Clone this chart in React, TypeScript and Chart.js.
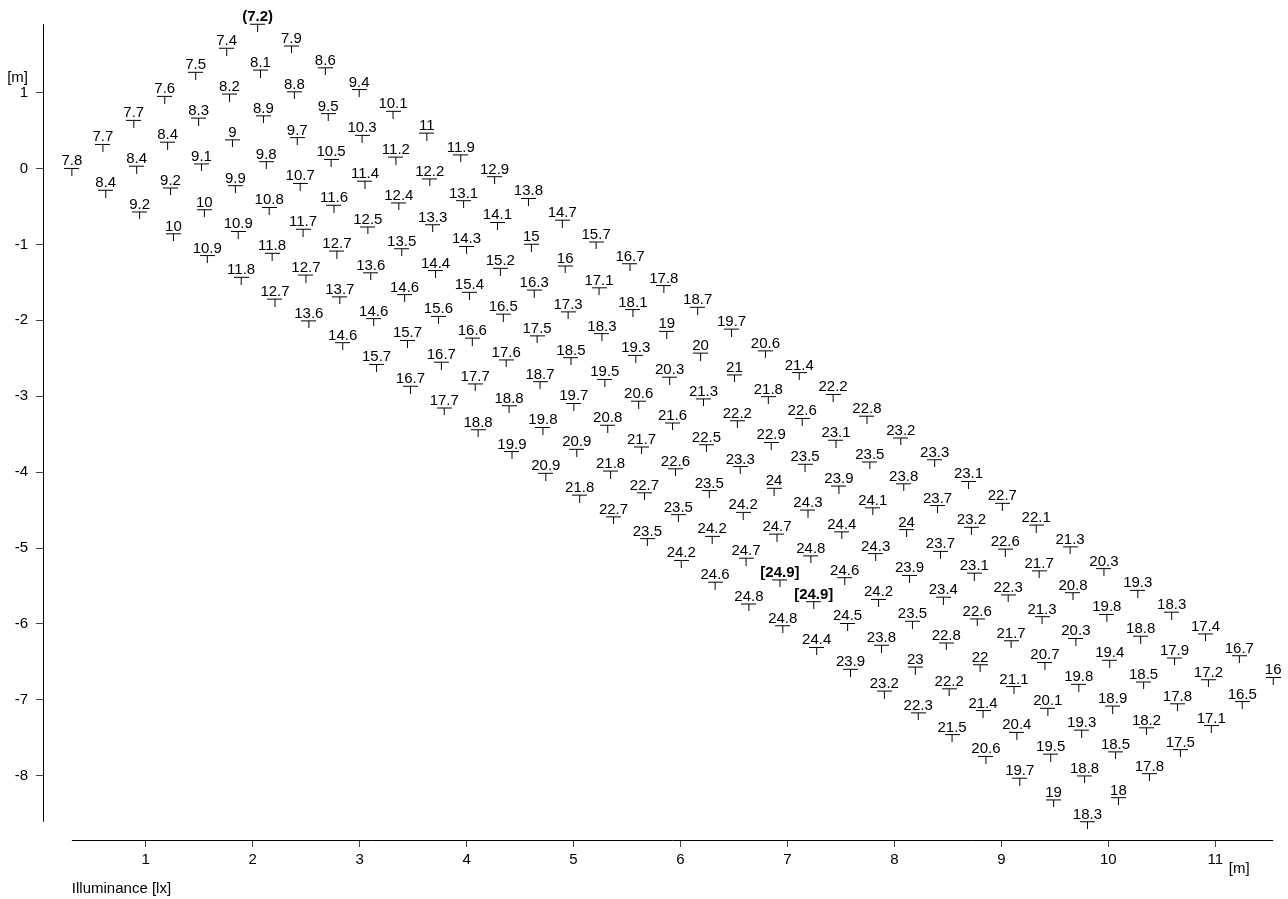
import React, { useEffect, useRef } from 'react';
import { Chart, registerables } from 'chart.js';

Chart.register(...registerables);

// Illuminance values [lx] on the calculation grid.
// ROW_k runs along the grid's "v" direction (down-right), k is the "u" index (up-right).
const ROW_0 = [7.8, 8.4, 9.2, 10, 10.9, 11.8, 12.7, 13.6, 14.6, 15.7, 16.7, 17.7, 18.8, 19.9, 20.9, 21.8, 22.7, 23.5, 24.2, 24.6, 24.8, 24.8, 24.4, 23.9, 23.2, 22.3, 21.5, 20.6, 19.7, 19, 18.3];
const ROW_1 = [7.7, 8.4, 9.2, 10, 10.9, 11.8, 12.7, 13.7, 14.6, 15.7, 16.7, 17.7, 18.8, 19.8, 20.9, 21.8, 22.7, 23.5, 24.2, 24.7, 24.9, 24.9, 24.5, 23.8, 23, 22.2, 21.4, 20.4, 19.5, 18.8, 18];
const ROW_2 = [7.7, 8.4, 9.1, 9.9, 10.8, 11.7, 12.7, 13.6, 14.6, 15.6, 16.6, 17.6, 18.7, 19.7, 20.8, 21.7, 22.6, 23.5, 24.2, 24.7, 24.8, 24.6, 24.2, 23.5, 22.8, 22, 21.1, 20.1, 19.3, 18.5, 17.8];
const ROW_3 = [7.6, 8.3, 9, 9.8, 10.7, 11.6, 12.5, 13.5, 14.4, 15.4, 16.5, 17.5, 18.5, 19.5, 20.6, 21.6, 22.5, 23.3, 24, 24.3, 24.4, 24.3, 23.9, 23.4, 22.6, 21.7, 20.7, 19.8, 18.9, 18.2, 17.5];
const ROW_4 = [7.5, 8.2, 8.9, 9.7, 10.5, 11.4, 12.4, 13.3, 14.3, 15.2, 16.3, 17.3, 18.3, 19.3, 20.3, 21.3, 22.2, 22.9, 23.5, 23.9, 24.1, 24, 23.7, 23.1, 22.3, 21.3, 20.3, 19.4, 18.5, 17.8, 17.1];
const ROW_5 = [7.4, 8.1, 8.8, 9.5, 10.3, 11.2, 12.2, 13.1, 14.1, 15, 16, 17.1, 18.1, 19, 20, 21, 21.8, 22.6, 23.1, 23.5, 23.8, 23.7, 23.2, 22.6, 21.7, 20.8, 19.8, 18.8, 17.9, 17.2, 16.5];
const ROW_6 = [7.2, 7.9, 8.6, 9.4, 10.1, 11, 11.9, 12.9, 13.8, 14.7, 15.7, 16.7, 17.8, 18.7, 19.7, 20.6, 21.4, 22.2, 22.8, 23.2, 23.3, 23.1, 22.7, 22.1, 21.3, 20.3, 19.3, 18.3, 17.4, 16.7, 16];
const ROWS = [ROW_0, ROW_1, ROW_2, ROW_3, ROW_4, ROW_5, ROW_6];

// Calculation grid geometry [m]: first grid point and the two grid step vectors.
const GRID_ORIGIN = { x: 0.31, y: 0.0 };
const STEP_U = { x: 0.2894, y: 0.3166 };
const STEP_V = { x: 0.3165, y: -0.2868 };

// Axes
const X_TICKS = [1, 2, 3, 4, 5, 6, 7, 8, 9, 10, 11];
const Y_TICKS = [-8, -7, -6, -5, -4, -3, -2, -1, 0, 1];
const X_RANGE = [0.0402, 11.605];
const Y_RANGE = [-8.845, 1.9945];
const X_UNIT = '[m]';
const Y_UNIT = '[m]';
const VALUE_TITLE = 'Illuminance [lx]';

const FONT_FAMILY = '"Liberation Sans", Arial, Helvetica, sans-serif';

type Pt = { x: number; y: number; v: number };

const POINTS: Pt[] = [];
ROWS.forEach((row, u) => {
  row.forEach((val, v) => {
    POINTS.push({
      x: GRID_ORIGIN.x + u * STEP_U.x + v * STEP_V.x,
      y: GRID_ORIGIN.y + u * STEP_U.y + v * STEP_V.y,
      v: val,
    });
  });
});

export default function App() {
  const ref = useRef<HTMLCanvasElement | null>(null);

  useEffect(() => {
    if (!ref.current) return;

    const marker = document.createElement('canvas');
    marker.width = 15;
    marker.height = 15;
    const mc = marker.getContext('2d')!;
    mc.strokeStyle = '#000';
    mc.lineWidth = 1;
    mc.beginPath();
    mc.moveTo(0, 7.5);
    mc.lineTo(15, 7.5);
    mc.moveTo(7.5, 7.5);
    mc.lineTo(7.5, 15);
    mc.stroke();

    const values = POINTS.map((p) => p.v);
    const minV = Math.min(...values);
    const maxV = Math.max(...values);
    const xs = POINTS.map((p) => p.x);
    const ys = POINTS.map((p) => p.y);
    const dataXMin = Math.min(...xs);
    const dataXMax = Math.max(...xs);
    const dataYMin = Math.min(...ys);
    const dataYMax = Math.max(...ys);

    const labelPlugin = {
      id: 'valueLabels',
      afterDatasetsDraw(chart: any) {
        const meta = chart.getDatasetMeta(0);
        const ctx = chart.ctx;
        ctx.save();
        ctx.textAlign = 'center';
        ctx.textBaseline = 'alphabetic';
        ctx.fillStyle = '#000';
        meta.data.forEach((el: any, i: number) => {
          const p = POINTS[i];
          let text = String(p.v);
          let bold = false;
          if (p.v === minV) {
            text = '(' + p.v + ')';
            bold = true;
          } else if (p.v === maxV) {
            text = '[' + p.v + ']';
            bold = true;
          }
          ctx.font = (bold ? 'bold ' : '') + '15px ' + FONT_FAMILY;
          ctx.fillText(text, el.x, el.y - 3);
        });
        ctx.restore();
      },
    };

    const axisPlugin = {
      id: 'rangeAxes',
      afterDraw(chart: any) {
        const ctx = chart.ctx;
        const sx = chart.scales.x;
        const sy = chart.scales.y;
        const area = chart.chartArea;
        ctx.save();
        ctx.strokeStyle = '#000';
        ctx.lineWidth = 1;
        ctx.beginPath();
        const ax = Math.round(area.left) + 0.5;
        ctx.moveTo(ax, sy.getPixelForValue(dataYMax));
        ctx.lineTo(ax, sy.getPixelForValue(dataYMin));
        const ay = Math.round(area.bottom) + 0.5;
        ctx.moveTo(sx.getPixelForValue(dataXMin), ay);
        ctx.lineTo(sx.getPixelForValue(dataXMax), ay);
        ctx.stroke();

        ctx.fillStyle = '#000';
        ctx.font = '15px ' + FONT_FAMILY;
        // y unit
        ctx.textAlign = 'right';
        ctx.textBaseline = 'middle';
        ctx.fillText(Y_UNIT, area.left - 15, sy.getPixelForValue(Y_TICKS[Y_TICKS.length - 1]) - 15);
        // x unit
        ctx.textAlign = 'center';
        ctx.fillText(X_UNIT, sx.getPixelForValue(X_TICKS[X_TICKS.length - 1]) + 24, area.bottom + 29);
        // value title
        ctx.textAlign = 'left';
        ctx.textBaseline = 'alphabetic';
        ctx.fillText(VALUE_TITLE, sx.getPixelForValue(dataXMin), area.bottom + 52.5);
        ctx.restore();
      },
    };

    const tickFont = { family: FONT_FAMILY, size: 15 };

    const chart = new Chart(ref.current, {
      type: 'scatter',
      data: {
        datasets: [
          {
            data: POINTS.map((p) => ({ x: p.x, y: p.y })),
            pointStyle: marker as any,
            pointRadius: 7,
            pointHoverRadius: 7,
            showLine: false,
            clip: false as any,
          },
        ],
      },
      options: {
        animation: false,
        responsive: false,
        events: [],
        layout: { padding: { top: 15, right: 8, left: 0, bottom: 0 } },
        plugins: {
          legend: { display: false },
          tooltip: { enabled: false },
          title: { display: false },
        },
        scales: {
          x: {
            type: 'linear',
            position: 'bottom',
            min: X_RANGE[0],
            max: X_RANGE[1],
            afterFit: (s: any) => {
              s.height = 59;
            },
            afterBuildTicks: (s: any) => {
              s.ticks = X_TICKS.map((v) => ({ value: v }));
            },
            border: { display: false },
            grid: { display: true, drawOnChartArea: false, drawTicks: true, tickLength: 7, color: '#444' },
            ticks: {
              padding: 4,
              color: '#000',
              font: tickFont,
              maxRotation: 0,
              autoSkip: false,
              callback: (v: any) => String(v),
            },
          },
          y: {
            type: 'linear',
            position: 'left',
            min: Y_RANGE[0],
            max: Y_RANGE[1],
            afterFit: (s: any) => {
              s.width = 43;
            },
            afterBuildTicks: (s: any) => {
              s.ticks = Y_TICKS.map((v) => ({ value: v }));
            },
            border: { display: false },
            grid: { display: true, drawOnChartArea: false, drawTicks: true, tickLength: 7, color: '#444' },
            ticks: {
              padding: 8,
              color: '#000',
              font: tickFont,
              autoSkip: false,
              callback: (v: any) => String(v),
            },
          },
        },
      },
      plugins: [labelPlugin, axisPlugin],
    } as any);

    return () => {
      chart.destroy();
    };
  }, []);

  return (
    <div style={{ position: 'absolute', left: 0, top: 0, width: 1288, height: 899, background: '#fff' }}>
      <canvas ref={ref} width={1288} height={899} style={{ display: 'block', width: 1288, height: 899 }} />
    </div>
  );
}
